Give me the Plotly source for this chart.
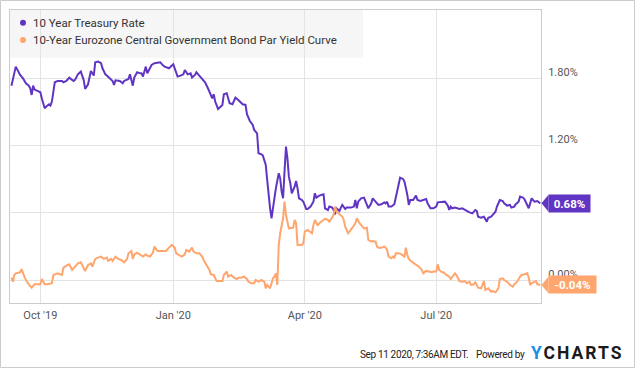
import plotly.graph_objects as go

# ---------------- data ----------------
series_names = ["10 Year Treasury Rate",
                "10-Year Eurozone Central Government Bond Par Yield Curve"]

treasury_dates = [
    "2019-09-11", "2019-09-14", "2019-09-17", "2019-09-19", "2019-09-21", "2019-09-23", "2019-09-24",
    "2019-09-25", "2019-09-26", "2019-09-27", "2019-09-29", "2019-10-01", "2019-10-02", "2019-10-04",
    "2019-10-05", "2019-10-07", "2019-10-08", "2019-10-09", "2019-10-11", "2019-10-13", "2019-10-16",
    "2019-10-17", "2019-10-19", "2019-10-21", "2019-10-24", "2019-10-25", "2019-10-27", "2019-10-29",
    "2019-10-31", "2019-11-01", "2019-11-03", "2019-11-04", "2019-11-05", "2019-11-07", "2019-11-08",
    "2019-11-10", "2019-11-12", "2019-11-13", "2019-11-15", "2019-11-16", "2019-11-18", "2019-11-20",
    "2019-11-21", "2019-11-22", "2019-11-25", "2019-11-27", "2019-11-28", "2019-12-01", "2019-12-02",
    "2019-12-04", "2019-12-05", "2019-12-07", "2019-12-09", "2019-12-10", "2019-12-11", "2019-12-13",
    "2019-12-14", "2019-12-16", "2019-12-17", "2019-12-19", "2019-12-23", "2019-12-25", "2019-12-26",
    "2019-12-29", "2020-01-01", "2020-01-02", "2020-01-04", "2020-01-06", "2020-01-08", "2020-01-09",
    "2020-01-11", "2020-01-13", "2020-01-14", "2020-01-16", "2020-01-17", "2020-01-19", "2020-01-21",
    "2020-01-23", "2020-01-25", "2020-01-27", "2020-01-28", "2020-01-29", "2020-01-30", "2020-02-01",
    "2020-02-02", "2020-02-04", "2020-02-05", "2020-02-07", "2020-02-08", "2020-02-09", "2020-02-11",
    "2020-02-13", "2020-02-15", "2020-02-16", "2020-02-18", "2020-02-20", "2020-02-21", "2020-02-23",
    "2020-02-25", "2020-02-26", "2020-02-28", "2020-02-29", "2020-03-02", "2020-03-03", "2020-03-05",
    "2020-03-06", "2020-03-07", "2020-03-08", "2020-03-09", "2020-03-11", "2020-03-12", "2020-03-14",
    "2020-03-15", "2020-03-16", "2020-03-17", "2020-03-18", "2020-03-19", "2020-03-20", "2020-03-21",
    "2020-03-22", "2020-03-23", "2020-03-25", "2020-03-26", "2020-03-27", "2020-03-28", "2020-03-30",
    "2020-03-31", "2020-04-02", "2020-04-03", "2020-04-05", "2020-04-07", "2020-04-08", "2020-04-09",
    "2020-04-11", "2020-04-13", "2020-04-14", "2020-04-15", "2020-04-17", "2020-04-18", "2020-04-20",
    "2020-04-21", "2020-04-22", "2020-04-23", "2020-04-25", "2020-04-26", "2020-04-27", "2020-04-29",
    "2020-04-30", "2020-05-03", "2020-05-05", "2020-05-06", "2020-05-07", "2020-05-08", "2020-05-10",
    "2020-05-12", "2020-05-14", "2020-05-15", "2020-05-17", "2020-05-18", "2020-05-20", "2020-05-22",
    "2020-05-24", "2020-05-26", "2020-05-27", "2020-05-28", "2020-05-29", "2020-05-31", "2020-06-02",
    "2020-06-04", "2020-06-05", "2020-06-06", "2020-06-08", "2020-06-09", "2020-06-11", "2020-06-12",
    "2020-06-13", "2020-06-15", "2020-06-17", "2020-06-18", "2020-06-20", "2020-06-22", "2020-06-24",
    "2020-06-25", "2020-06-27", "2020-06-29", "2020-07-01", "2020-07-02", "2020-07-04", "2020-07-06",
    "2020-07-07", "2020-07-09", "2020-07-10", "2020-07-11", "2020-07-12", "2020-07-14", "2020-07-15",
    "2020-07-17", "2020-07-19", "2020-07-21", "2020-07-22", "2020-07-24", "2020-07-26", "2020-07-28",
    "2020-07-29", "2020-07-30", "2020-08-01", "2020-08-03", "2020-08-05", "2020-08-06", "2020-08-08",
    "2020-08-09", "2020-08-11", "2020-08-12", "2020-08-14", "2020-08-16", "2020-08-17", "2020-08-19",
    "2020-08-21", "2020-08-22", "2020-08-24", "2020-08-25", "2020-08-27", "2020-08-28", "2020-08-30",
    "2020-08-31", "2020-09-02", "2020-09-03", "2020-09-04", "2020-09-05", "2020-09-07", "2020-09-09",
    "2020-09-10", "2020-09-11",
]
treasury_values = [
    1.734, 1.904, 1.830, 1.800, 1.755, 1.734, 1.711,
    1.651, 1.734, 1.699, 1.687, 1.675, 1.621, 1.532,
    1.547, 1.568, 1.556, 1.592, 1.764, 1.776, 1.776,
    1.764, 1.776, 1.806, 1.776, 1.785, 1.835, 1.859,
    1.785, 1.705, 1.746, 1.794, 1.865, 1.824, 1.943,
    1.949, 1.934, 1.889, 1.835, 1.824, 1.800, 1.776,
    1.740, 1.782, 1.776, 1.755, 1.776, 1.794, 1.835,
    1.734, 1.806, 1.853, 1.844, 1.844, 1.815, 1.904,
    1.844, 1.889, 1.919, 1.934, 1.943, 1.913, 1.904,
    1.889, 1.925, 1.889, 1.815, 1.824, 1.835, 1.874,
    1.835, 1.844, 1.806, 1.830, 1.853, 1.824, 1.794,
    1.764, 1.711, 1.651, 1.621, 1.657, 1.592, 1.526,
    1.538, 1.562, 1.657, 1.666, 1.621, 1.577, 1.568,
    1.627, 1.606, 1.592, 1.568, 1.562, 1.479, 1.419,
    1.383, 1.339, 1.309, 1.131, 1.122, 1.110, 1.026,
    0.893, 0.744, 0.640, 0.551, 0.759, 0.818, 0.952,
    0.907, 0.789, 0.729, 0.967, 1.190, 1.086, 0.922,
    0.863, 0.774, 0.833, 0.884, 0.818, 0.729, 0.714,
    0.699, 0.634, 0.634, 0.655, 0.699, 0.774, 0.735,
    0.753, 0.765, 0.765, 0.640, 0.625, 0.655, 0.646,
    0.625, 0.586, 0.640, 0.616, 0.646, 0.670, 0.634,
    0.646, 0.646, 0.655, 0.714, 0.640, 0.699, 0.729,
    0.735, 0.670, 0.640, 0.684, 0.729, 0.699, 0.670,
    0.676, 0.693, 0.684, 0.699, 0.655, 0.655, 0.676,
    0.789, 0.863, 0.913, 0.902, 0.878, 0.759, 0.670,
    0.714, 0.714, 0.753, 0.714, 0.705, 0.714, 0.723,
    0.684, 0.640, 0.640, 0.655, 0.693, 0.693, 0.699,
    0.699, 0.664, 0.625, 0.655, 0.640, 0.646, 0.640,
    0.634, 0.640, 0.625, 0.616, 0.604, 0.595, 0.625,
    0.616, 0.565, 0.556, 0.565, 0.521, 0.556, 0.565,
    0.580, 0.610, 0.655, 0.714, 0.705, 0.684, 0.664,
    0.670, 0.646, 0.655, 0.676, 0.699, 0.744, 0.735,
    0.723, 0.670, 0.640, 0.684, 0.729, 0.699, 0.705,
    0.693, 0.684,
]

euro_dates = [
    "2019-09-11", "2019-09-12", "2019-09-13", "2019-09-14", "2019-09-17", "2019-09-18", "2019-09-20",
    "2019-09-21", "2019-09-23", "2019-09-25", "2019-09-27", "2019-09-29", "2019-10-01", "2019-10-02",
    "2019-10-04", "2019-10-06", "2019-10-09", "2019-10-10", "2019-10-13", "2019-10-16", "2019-10-17",
    "2019-10-19", "2019-10-21", "2019-10-23", "2019-10-25", "2019-10-27", "2019-10-29", "2019-10-31",
    "2019-11-01", "2019-11-03", "2019-11-05", "2019-11-06", "2019-11-08", "2019-11-10", "2019-11-12",
    "2019-11-14", "2019-11-16", "2019-11-17", "2019-11-19", "2019-11-20", "2019-11-22", "2019-11-24",
    "2019-11-26", "2019-11-28", "2019-11-30", "2019-12-01", "2019-12-03", "2019-12-04", "2019-12-05",
    "2019-12-07", "2019-12-09", "2019-12-11", "2019-12-13", "2019-12-14", "2019-12-16", "2019-12-18",
    "2019-12-19", "2019-12-21", "2019-12-23", "2019-12-25", "2019-12-27", "2019-12-29", "2019-12-31",
    "2020-01-02", "2020-01-03", "2020-01-05", "2020-01-07", "2020-01-09", "2020-01-10", "2020-01-12",
    "2020-01-13", "2020-01-14", "2020-01-15", "2020-01-17", "2020-01-19", "2020-01-21", "2020-01-22",
    "2020-01-24", "2020-01-26", "2020-01-27", "2020-01-29", "2020-01-31", "2020-02-02", "2020-02-04",
    "2020-02-05", "2020-02-07", "2020-02-08", "2020-02-10", "2020-02-12", "2020-02-14", "2020-02-15",
    "2020-02-17", "2020-02-19", "2020-02-21", "2020-02-22", "2020-02-24", "2020-02-26", "2020-02-27",
    "2020-02-29", "2020-03-02", "2020-03-04", "2020-03-05", "2020-03-06", "2020-03-08", "2020-03-09",
    "2020-03-10", "2020-03-11", "2020-03-12", "2020-03-13", "2020-03-14", "2020-03-15", "2020-03-17",
    "2020-03-18", "2020-03-19", "2020-03-21", "2020-03-22", "2020-03-24", "2020-03-25", "2020-03-26",
    "2020-03-27", "2020-03-30", "2020-03-31", "2020-04-01", "2020-04-03", "2020-04-04", "2020-04-06",
    "2020-04-07", "2020-04-08", "2020-04-10", "2020-04-11", "2020-04-13", "2020-04-15", "2020-04-17",
    "2020-04-18", "2020-04-20", "2020-04-21", "2020-04-22", "2020-04-23", "2020-04-25", "2020-04-27",
    "2020-04-28", "2020-04-29", "2020-05-01", "2020-05-02", "2020-05-04", "2020-05-06", "2020-05-07",
    "2020-05-09", "2020-05-10", "2020-05-12", "2020-05-14", "2020-05-15", "2020-05-17", "2020-05-18",
    "2020-05-20", "2020-05-21", "2020-05-22", "2020-05-24", "2020-05-26", "2020-05-27", "2020-05-28",
    "2020-05-29", "2020-05-31", "2020-06-01", "2020-06-02", "2020-06-03", "2020-06-05", "2020-06-07",
    "2020-06-09", "2020-06-10", "2020-06-11", "2020-06-12", "2020-06-14", "2020-06-16", "2020-06-19",
    "2020-06-21", "2020-06-22", "2020-06-24", "2020-06-26", "2020-06-28", "2020-06-29", "2020-07-01",
    "2020-07-02", "2020-07-03", "2020-07-05", "2020-07-06", "2020-07-08", "2020-07-10", "2020-07-11",
    "2020-07-13", "2020-07-14", "2020-07-15", "2020-07-17", "2020-07-19", "2020-07-21", "2020-07-22",
    "2020-07-24", "2020-07-25", "2020-07-27", "2020-07-28", "2020-07-29", "2020-07-30", "2020-08-01",
    "2020-08-02", "2020-08-03", "2020-08-04", "2020-08-06", "2020-08-08", "2020-08-09", "2020-08-11",
    "2020-08-13", "2020-08-14", "2020-08-16", "2020-08-17", "2020-08-19", "2020-08-21", "2020-08-23",
    "2020-08-24", "2020-08-26", "2020-08-28", "2020-08-29", "2020-08-31", "2020-09-02", "2020-09-03",
    "2020-09-04", "2020-09-05", "2020-09-07", "2020-09-08", "2020-09-09", "2020-09-10", "2020-09-11",
]
euro_values = [
    0.021, -0.015, 0.045, 0.060, 0.069, 0.098, 0.030,
    0.000, -0.038, -0.068, -0.038, -0.038, -0.038, 0.009,
    -0.038, -0.038, -0.029, 0.045, 0.060, 0.045, 0.110,
    0.128, 0.140, 0.090, 0.119, 0.149, 0.158, 0.104,
    0.081, 0.134, 0.149, 0.119, 0.188, 0.200, 0.209,
    0.188, 0.200, 0.170, 0.188, 0.170, 0.209, 0.188,
    0.179, 0.158, 0.188, 0.238, 0.259, 0.188, 0.229,
    0.244, 0.223, 0.209, 0.229, 0.217, 0.209, 0.247,
    0.298, 0.259, 0.259, 0.259, 0.259, 0.289, 0.313,
    0.289, 0.238, 0.223, 0.209, 0.229, 0.268, 0.253,
    0.277, 0.289, 0.253, 0.238, 0.238, 0.209, 0.179,
    0.134, 0.090, 0.051, 0.045, -0.009, -0.009, -0.009,
    0.045, 0.075, 0.030, 0.045, 0.021, 0.009, 0.021,
    0.021, 0.030, 0.009, -0.015, -0.029, -0.029, 0.000,
    -0.015, 0.000, -0.015, -0.074, -0.044, -0.074, -0.029,
    0.015, 0.030, 0.060, -0.044, 0.313, 0.417, 0.551,
    0.699, 0.580, 0.461, 0.461, 0.467, 0.536, 0.506,
    0.313, 0.313, 0.328, 0.432, 0.446, 0.438, 0.417,
    0.491, 0.536, 0.485, 0.506, 0.527, 0.545, 0.536,
    0.521, 0.557, 0.586, 0.655, 0.610, 0.586, 0.565,
    0.536, 0.476, 0.417, 0.432, 0.467, 0.506, 0.551,
    0.506, 0.491, 0.461, 0.467, 0.357, 0.342, 0.348,
    0.342, 0.298, 0.289, 0.289, 0.298, 0.289, 0.268,
    0.209, 0.194, 0.209, 0.200, 0.238, 0.238, 0.229,
    0.209, 0.289, 0.223, 0.188, 0.164, 0.149, 0.119,
    0.090, 0.060, 0.081, 0.075, 0.069, 0.075, 0.075,
    0.140, 0.090, 0.069, 0.069, 0.045, 0.030, 0.009,
    0.039, 0.060, 0.045, -0.009, -0.015, -0.009, -0.029,
    -0.015, -0.044, -0.038, -0.021, -0.044, -0.068, -0.074,
    -0.044, -0.009, -0.089, -0.074, -0.104, -0.098, -0.110,
    -0.074, 0.009, 0.015, 0.000, -0.015, -0.044, -0.059,
    -0.038, -0.015, 0.030, 0.045, 0.051, 0.060, 0.021,
    -0.044, -0.029, -0.015, -0.009, -0.038, -0.044, -0.044,
]

x_tick_values = ["2019-10-01", "2020-01-01", "2020-04-01", "2020-07-01"]
x_tick_labels = ["Oct '19", "Jan '20", "Apr '20", "Jul '20"]
y_tick_values = [0.0, 0.6, 1.2, 1.8]
y_tick_labels = ["0.00%", "", "1.20%", "1.80%"]
x_range = ["2019-09-10", "2020-09-11 12:00"]
y_range = [-0.205, 2.409]
footer_stamp = "Sep 11 2020, 7:36AM EDT."

# ---------------- styling ----------------
PURPLE = "#6035c4"
ORANGE = "#ffa66e"
GRID = "#e3e3e3"
FRAME = "#cccccc"
FONT = "Roboto, 'Noto Sans', sans-serif"

W, H = 635, 368
L, R, T, B = 10, 541, 10, 303   # plot area in pixels


def px(x):
    return (x - L) / (R - L)


def py(y):
    return (B - y) / (B - T)


fig = go.Figure()
fig.add_trace(go.Scatter(x=treasury_dates, y=treasury_values, mode="lines", name=series_names[0],
                         line=dict(color=PURPLE, width=2), showlegend=False, hoverinfo="skip"))
fig.add_trace(go.Scatter(x=euro_dates, y=euro_values, mode="lines", name=series_names[1],
                         line=dict(color=ORANGE, width=2), showlegend=False, hoverinfo="skip"))

shapes = []
annotations = []

# legend panel (drawn under the gridlines)
shapes.append(dict(type="rect", xref="paper", yref="paper", x0=0, x1=px(363), y0=py(57.7), y1=1,
                   fillcolor="#f6f6f6", line=dict(width=0), layer="below"))
for i, (name, col) in enumerate(zip(series_names, [PURPLE, ORANGE])):
    yy = py(22.7 + 17.3 * i)
    shapes.append(dict(type="circle", xref="paper", yref="paper", xsizemode="pixel", ysizemode="pixel",
                       xanchor=px(23), yanchor=yy, x0=-3, x1=3, y0=-3, y1=3,
                       fillcolor=col, line=dict(width=0)))
    annotations.append(dict(xref="paper", yref="paper", x=px(30.5), y=yy, xanchor="left", yanchor="middle",
                            text=name, showarrow=False, font=dict(family=FONT, size=11.5, color="#333333")))

# last-value flags at the right axis
dv = 8.5 * (y_range[1] - y_range[0]) / (B - T)
for vals, col, wdt in [(treasury_values, PURPLE, 41), (euro_values, ORANGE, 47)]:
    v = vals[-1]
    shapes.append(dict(type="path", xref="paper", yref="y",
                       path=f"M {px(541.5)},{v} L {px(548.5)},{v + dv} L {px(548.5)},{v - dv} Z",
                       fillcolor=col, line=dict(width=0), layer="above"))
    annotations.append(dict(xref="paper", yref="y", x=px(548), y=v, xanchor="left", yanchor="middle",
                            text=f"<b>{v:.2f}%</b>", showarrow=False, bgcolor=col, borderpad=0,
                            width=wdt, height=17, align="center",
                            font=dict(family=FONT, size=11.5, color="#ffffff")))

# footer
FOOT = dict(family=FONT, size=10, color="#222222")
annotations.append(dict(xref="paper", yref="paper", x=px(470), y=py(354), xanchor="right", yanchor="middle",
                        text=f"<span style='letter-spacing:-0.35px'>{footer_stamp}</span>",
                        showarrow=False, font=FOOT))
annotations.append(dict(xref="paper", yref="paper", x=px(527), y=py(354), xanchor="right", yanchor="middle",
                        text="<span style='letter-spacing:-0.35px'>Powered by</span>", showarrow=False, font=FOOT))
annotations.append(dict(xref="paper", yref="paper", x=px(529), y=py(353), xanchor="left", yanchor="middle",
                        text="<b><span style='color:#1a8fe3;letter-spacing:2px'>Y</span>"
                             "<span style='letter-spacing:2px'>CHARTS</span></b>",
                        showarrow=False, font=dict(family=FONT, size=17.5, color="#1b1b1b")))

# outer frame of the image
shapes.append(dict(type="rect", xref="paper", yref="paper", x0=px(0.5), x1=px(634.5), y0=py(367.5), y1=py(0.5),
                   line=dict(color=FRAME, width=1), fillcolor="rgba(0,0,0,0)", layer="above"))

fig.update_layout(
    width=W, height=H,
    margin=dict(l=L, r=W - R, t=T, b=H - B, pad=0),
    paper_bgcolor="#ffffff", plot_bgcolor="#ffffff",
    showlegend=False,
    font=dict(family=FONT),
    shapes=shapes, annotations=annotations,
    xaxis=dict(type="date", range=x_range, tickvals=x_tick_values, ticktext=x_tick_labels,
               showgrid=True, gridcolor=GRID, gridwidth=1, zeroline=False,
               showline=True, mirror=True, linecolor=FRAME, linewidth=1, ticks="",
               tickfont=dict(family=FONT, size=11, color="#555555"), ticklabelstandoff=2),
    yaxis=dict(side="right", range=y_range, tickvals=y_tick_values, ticktext=y_tick_labels,
               showgrid=True, gridcolor=GRID, gridwidth=1, zeroline=False,
               showline=True, mirror=True, linecolor=FRAME, linewidth=1, ticks="",
               tickfont=dict(family=FONT, size=11, color="#555555"),
               ticklabelshift=-6, ticklabelstandoff=4),
)

fig.write_html("out.html", config={"displayModeBar": False},
               post_script="document.body.style.margin='0px';document.body.style.padding='0px';")
